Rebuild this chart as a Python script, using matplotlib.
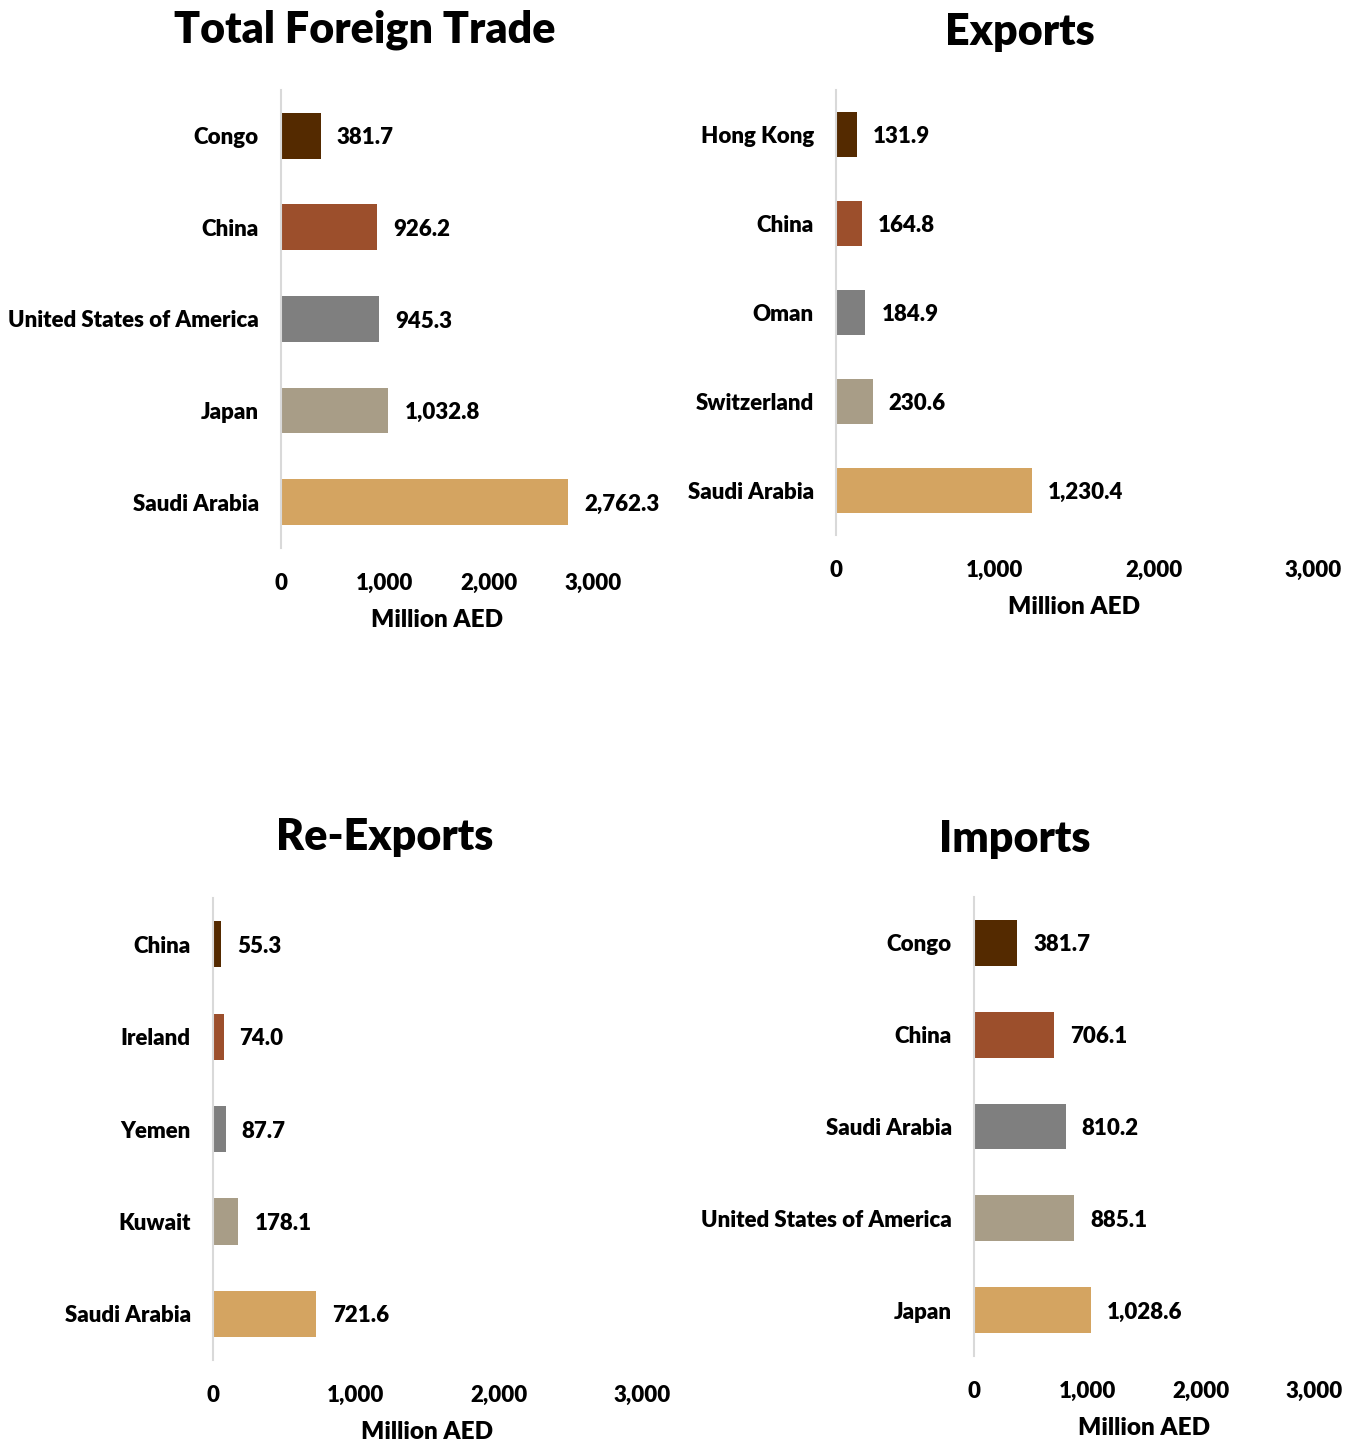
import matplotlib.pyplot as plt
from matplotlib.ticker import FuncFormatter

plt.rcParams['font.family'] = ['Lato', 'DejaVu Sans']
plt.rcParams['font.weight'] = 'heavy'
plt.rcParams['axes.labelweight'] = 'heavy'

# data (top to bottom as shown)
trade_names = ['Congo', 'China', 'United States of America', 'Japan', 'Saudi Arabia']
trade_vals = [381.7, 926.2, 945.3, 1032.8, 2762.3]

export_names = ['Hong Kong', 'China', 'Oman', 'Switzerland', 'Saudi Arabia']
export_vals = [131.9, 164.8, 184.9, 230.6, 1230.4]

reexport_names = ['China', 'Ireland', 'Yemen', 'Kuwait', 'Saudi Arabia']
reexport_vals = [55.3, 74.0, 87.7, 178.1, 721.6]

import_names = ['Congo', 'China', 'Saudi Arabia', 'United States of America', 'Japan']
import_vals = [381.7, 706.1, 810.2, 885.1, 1028.6]

titles = ['Total Foreign Trade', 'Exports', 'Re-Exports', 'Imports']
xticks = [0, 1000, 2000, 3000]

colors = ['#542A00', '#9C4F2C', '#7F7F7F', '#A89D87', '#D4A461']

W, H = 1357, 1443
fig = plt.figure(figsize=(W / 100, H / 100), dpi=100)

# axes boxes in pixels: left, right, top, bottom ; title centre x,y
boxes = [
    (281, 593, 90, 548, 365, 30),
    (836, 1313, 90, 535, 1020, 32),
    (213, 642, 898, 1360, 385, 837),
    (974, 1314, 897, 1356, 1015, 839),
]
panels = [
    (trade_names, trade_vals),
    (export_names, export_vals),
    (reexport_names, reexport_vals),
    (import_names, import_vals),
]

fmt = FuncFormatter(lambda v, p: f'{v:,.0f}')

for (names, vals), title, (l, r, t, b, tx, ty) in zip(panels, titles, boxes):
    ax = fig.add_axes([l / W, 1 - b / H, (r - l) / W, (b - t) / H])
    y = list(range(len(names)))
    ax.barh(y, vals, height=0.5, color=colors)
    ax.set_ylim(len(names) - 0.5, -0.5)
    ax.set_xlim(0, 3000)
    ax.set_xticks(xticks)
    ax.xaxis.set_major_formatter(fmt)
    ax.set_yticks(y)
    ax.set_yticklabels(names)
    for s in ['top', 'right', 'bottom']:
        ax.spines[s].set_visible(False)
    ax.spines['left'].set_color('#D9D9D9')
    ax.spines['left'].set_linewidth(1.5)
    ax.tick_params(axis='y', length=0, pad=16, labelsize=16)
    ax.tick_params(axis='x', length=0, pad=18, labelsize=16)
    for yi, v in zip(y, vals):
        ax.annotate(f'{v:,.1f}', (v, yi), xytext=(11.5, -1.5), textcoords='offset points',
                    ha='left', va='center', fontsize=16)
    ax.set_xlabel('Million AED', fontsize=17.5, fontweight='heavy', labelpad=11)
    fig.text(tx / W, 1 - ty / H, title, ha='center', va='center', fontsize=31)

fig.savefig('out.png', dpi=100)
